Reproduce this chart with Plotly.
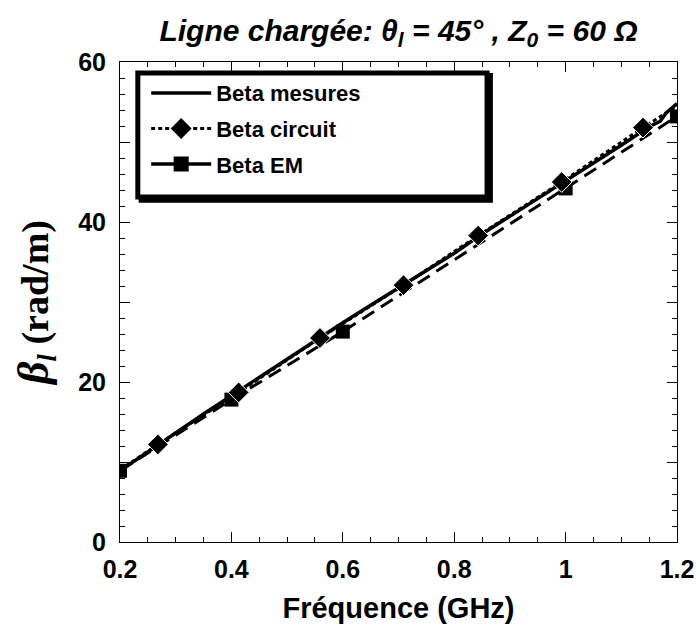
import plotly.graph_objects as go

# Beta mesures (solid line)
freq_mes = [0.20, 0.25, 0.30, 0.35, 0.40, 0.45, 0.50, 0.55, 0.60, 0.65, 0.70,
            0.75, 0.80, 0.85, 0.90, 0.95, 1.00, 1.05, 1.10, 1.15, 1.17, 1.18, 1.20]
beta_mes = [8.9, 11.3, 13.6, 16.0, 18.3, 20.6, 22.9, 25.2, 27.4, 29.6, 31.8,
            33.9, 36.1, 38.5, 40.7, 42.9, 45.1, 47.3, 49.6, 51.9, 52.6, 53.6, 54.8]

# Beta circuit (short dash + diamonds)
freq_circ = [0.20, 0.268, 0.413, 0.559, 0.709, 0.843, 0.993, 1.139, 1.20]
beta_circ = [9.0, 12.2, 18.7, 25.5, 32.1, 38.3, 45.0, 51.8, 54.5]
show_diamond = [False, True, True, True, True, True, True, True, False]

# Beta EM (long dash + squares)
freq_em = [0.2, 0.4, 0.6, 1.0, 1.2]
beta_em = [8.9, 17.8, 26.3, 44.2, 53.2]

y_major = [0, 10, 20, 30, 40, 50, 60]
y_labels = ['0', '', '20', '', '40', '', '60']
x_major = [0.2, 0.4, 0.6, 0.8, 1.0, 1.2]
x_labels = ['0.2', '0.4', '0.6', '0.8', '1', '1.2']

SANS = 'Liberation Sans, Arial, sans-serif'
SERIF = 'Liberation Serif, Times New Roman, serif'

fig = go.Figure()

# data traces
fig.add_trace(go.Scatter(x=freq_em, y=beta_em, mode='lines+markers',
                         line=dict(color='black', width=3, dash='14px,8px'),
                         marker=dict(symbol='square', size=14, color='black'),
                         showlegend=False))
fig.add_trace(go.Scatter(x=freq_mes, y=beta_mes, mode='lines',
                         line=dict(color='black', width=3.5),
                         showlegend=False))
fig.add_trace(go.Scatter(x=freq_circ, y=beta_circ, mode='lines+markers',
                         line=dict(color='black', width=3, dash='4px,3px'),
                         marker=dict(symbol='diamond', color='black', opacity=1,
                                     size=[16 if s else 0 for s in show_diamond]),
                         showlegend=False))

# legend entries (styled as in the original legend)
fig.add_trace(go.Scatter(x=[None], y=[None], mode='lines', name='Beta mesures',
                         legendgroup='a',
                         line=dict(color='black', width=3.5)))
fig.add_trace(go.Scatter(x=[None], y=[None], mode='lines+markers', name='Beta circuit',
                         legendgroup='b',
                         line=dict(color='black', width=3, dash='4px,3px'),
                         marker=dict(symbol='diamond', size=16, color='black')))
fig.add_trace(go.Scatter(x=[None], y=[None], mode='lines+markers', name='Beta EM',
                         legendgroup='c',
                         line=dict(color='black', width=3.5),
                         marker=dict(symbol='square', size=15, color='black')))

# legend frame with shadow
fig.add_shape(type='rect', xref='paper', yref='paper',
              x0=0.038, x1=0.665, y0=0.712, y1=0.972,
              line=dict(color='black', width=5), fillcolor='black', layer='above')
fig.add_shape(type='rect', xref='paper', yref='paper',
              x0=0.032, x1=0.659, y0=0.719, y1=0.977,
              line=dict(color='black', width=5), fillcolor='white', layer='above')

fig.update_layout(
    width=699, height=628,
    margin=dict(l=120, r=22, t=62, b=86, autoexpand=False),
    paper_bgcolor='white', plot_bgcolor='white',
    font=dict(family=SANS, color='black'),
    title=dict(text='<b><i>Ligne chargée: θ<sub>l</sub> = 45° , Z<sub>0</sub> = 60 Ω</i></b>',
               xref='paper', x=0.5, xanchor='center',
               yref='container', y=0.952, yanchor='middle',
               font=dict(size=30, family=SANS)),
    legend=dict(x=0.047, y=0.979, xanchor='left', yanchor='top',
                bgcolor='rgba(0,0,0,0)', borderwidth=0,
                itemwidth=60, tracegroupgap=4,
                font=dict(size=22, family=SANS, weight='bold')),
)

fig.update_xaxes(
    range=[0.2, 1.2], tickvals=x_major, ticktext=x_labels,
    showline=True, linecolor='black', linewidth=1, mirror='allticks',
    ticks='inside', ticklen=10, tickcolor='black', tickwidth=1,
    minor=dict(dtick=0.05, ticks='inside', ticklen=5, tickcolor='black'),
    showgrid=False, zeroline=False, automargin=False,
    tickfont=dict(size=25, family=SANS, weight='bold'),
    ticklabelstandoff=5,
    title=dict(text='<b>Fréquence (GHz)</b>', font=dict(size=29, family=SANS),
               standoff=15),
)
fig.update_yaxes(
    range=[0, 60], tickvals=y_major, ticktext=y_labels,
    showline=True, linecolor='black', linewidth=1, mirror='allticks',
    ticks='inside', ticklen=10, tickcolor='black', tickwidth=1,
    minor=dict(dtick=2, ticks='inside', ticklen=5, tickcolor='black'),
    showgrid=False, zeroline=False, automargin=False,
    tickfont=dict(size=25, family=SANS, weight='bold'),
    ticklabelstandoff=8,
    title=dict(text='<b><i><span style="font-size:44px">β</span></i><sub><i>l</i></sub> (rad/m)</b>',
               font=dict(size=38, family=SERIF), standoff=17),
)

# drop the default body margin so the figure fills the window exactly
fig.write_html('out.html', config={'displayModeBar': False},
               post_script="document.body.style.margin='0';document.body.style.overflow='hidden';")
